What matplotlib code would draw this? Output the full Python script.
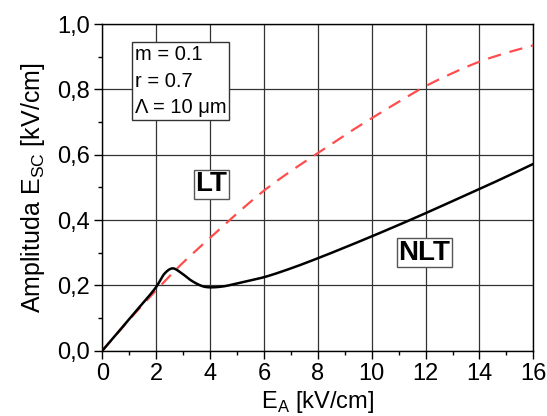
import numpy as np
import matplotlib.pyplot as plt
from matplotlib.ticker import FuncFormatter, MultipleLocator

plt.rcParams['font.family'] = ['Liberation Sans', 'DejaVu Sans']

# campo aplicado E_A [kV/cm]
ea_lt = [0, 1, 2, 3, 4, 5, 6, 7, 8, 9, 10, 11, 12, 13, 14, 15, 16]
esc_lt = [0, 0.095, 0.185, 0.27, 0.345, 0.42, 0.49, 0.55, 0.605, 0.66, 0.712,
          0.762, 0.81, 0.85, 0.885, 0.912, 0.935]

ea_nlt = [0, 0.5, 1, 1.5, 2, 2.3, 2.6, 2.9, 3.3, 3.7, 4, 4.5, 5, 6, 7, 8, 9,
          10, 11, 12, 13, 14, 15, 16]
esc_nlt = [0, 0.048, 0.097, 0.145, 0.195, 0.235, 0.252, 0.24, 0.215, 0.198,
           0.194, 0.197, 0.206, 0.225, 0.252, 0.283, 0.316, 0.35, 0.385,
           0.421, 0.458, 0.495, 0.533, 0.572]


def smooth(x, y):
    # curva suave via interpolacao cubica de Hermite
    x = np.asarray(x, float)
    y = np.asarray(y, float)
    xs, ys = [], []
    for i in range(len(x) - 1):
        x0, x1 = x[max(i - 1, 0)], x[i]
        x2, x3 = x[i + 1], x[min(i + 2, len(x) - 1)]
        y0, y1 = y[max(i - 1, 0)], y[i]
        y2, y3 = y[i + 1], y[min(i + 2, len(y) - 1)]
        m1 = (y2 - y0) / (x2 - x0)
        m2 = (y3 - y1) / (x3 - x1)
        t = np.linspace(0, 1, 30, endpoint=False)
        h = x2 - x1
        h00 = 2 * t**3 - 3 * t**2 + 1
        h10 = t**3 - 2 * t**2 + t
        h01 = -2 * t**3 + 3 * t**2
        h11 = t**3 - t**2
        xs.append(x1 + t * h)
        ys.append(h00 * y1 + h10 * h * m1 + h01 * y2 + h11 * h * m2)
    xs.append([x[-1]])
    ys.append([y[-1]])
    return np.concatenate(xs), np.concatenate(ys)


fig, ax = plt.subplots(figsize=(5.47, 4.16), dpi=100)
fig.subplots_adjust(left=0.187, right=0.975, top=0.942, bottom=0.157)

x1, y1 = smooth(ea_lt, esc_lt)
x2, y2 = smooth(ea_nlt, esc_nlt)
ax.plot(x1, y1, color='#ff4d4d', ls=(0, (6, 4)), lw=1.6, zorder=3)
ax.plot(x2, y2, color='black', lw=1.8, zorder=4)

ax.set_xlim(0, 16)
ax.set_ylim(0, 1.0)
ax.xaxis.set_major_locator(MultipleLocator(2))
ax.xaxis.set_minor_locator(MultipleLocator(1))
ax.yaxis.set_major_locator(MultipleLocator(0.2))
ax.yaxis.set_minor_locator(MultipleLocator(0.1))
ax.yaxis.set_major_formatter(FuncFormatter(lambda v, p: f'{v:.1f}'.replace('.', ',')))
ax.grid(True, which='major', color='#333333', lw=0.9)
ax.tick_params(which='major', direction='out', length=6, width=1, labelsize=17, pad=3)
ax.tick_params(which='minor', direction='out', length=3, width=1)
for s in ax.spines.values():
    s.set_linewidth(1)

ax.set_xlabel('E$_\\mathregular{A}$ [kV/cm]', fontsize=17, labelpad=3)
ax.set_ylabel('Amplituda E$_\\mathregular{SC}$ [kV/cm]', fontsize=18, labelpad=7)

ax.text(1.2, 0.935, 'm = 0.1\nr = 0.7\n\u039b = 10 \u03bcm', fontsize=14.5,
        va='top', ha='left', linespacing=1.5,
        bbox=dict(boxstyle='square,pad=0.15', fc='white', ec='#333333', lw=1),
        zorder=5)
ax.text(4.05, 0.51, 'LT', fontsize=20, fontweight='bold', ha='center', va='center',
        bbox=dict(boxstyle='square,pad=0.05', fc='white', ec='#555555', lw=1), zorder=5)
ax.text(11.95, 0.30, 'NLT', fontsize=20, fontweight='bold', ha='center', va='center',
        bbox=dict(boxstyle='square,pad=0.05', fc='white', ec='#555555', lw=1), zorder=5)

plt.savefig('out.png', dpi=100)
